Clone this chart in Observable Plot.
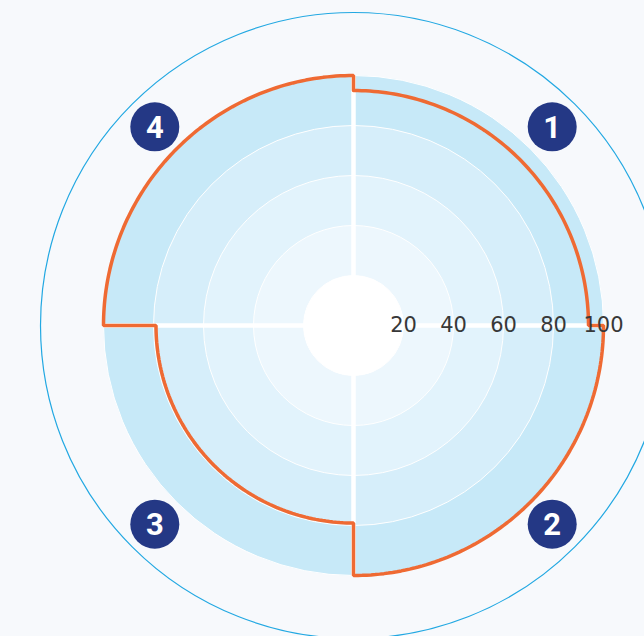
<!DOCTYPE html>
<html>
<head>
<meta charset="utf-8">
<script src="https://cdn.jsdelivr.net/npm/d3@7"></script>
<script src="https://cdn.jsdelivr.net/npm/@observablehq/plot@0.6"></script>
<style>
  html, body { margin: 0; padding: 0; background: #f7f9fc; }
  #chart svg { display: block; }
</style>
</head>
<body>
<div id="chart"></div>
<script>
// ---- data ----
const quadrants = ["1", "2", "3", "4"];
const scores = [94, 100, 79, 100];
const ringLevels = [100, 80, 60, 40, 20];
const tickLabels = [20, 40, 60, 80, 100];

// ---- styles ----
const ringFills = ["#c7e9f8", "#d6eefa", "#e2f3fc", "#edf7fd", "#ffffff"];
const outerRadius = 125.2;   // thin outer guide circle (value units)
const markerRadius = 112.4;  // where the numbered badges sit

const rad = Math.PI / 180;

// orange score outline, one arc per quadrant (clockwise from top)
const outline = [];
scores.forEach((v, i) => {
  const a0 = 90 - 90 * i;
  const N = 90;
  for (let k = 0; k <= N; k++) {
    const a = (a0 - 90 * k / N) * rad;
    outline.push({x: v * Math.cos(a), y: v * Math.sin(a)});
  }
});
outline.push(outline[0]);

const rings = ringLevels.map((r, i) => ({r, fill: ringFills[i]}));
const badges = quadrants.map((q, i) => {
  const a = (45 - 90 * i) * rad;
  return {label: q, x: markerRadius * Math.cos(a), y: markerRadius * Math.sin(a)};
});

const chart = Plot.plot({
  width: 644,
  height: 636,
  margin: 0,
  style: {background: "#f7f9fc"},
  x: {domain: [-141.2, 116.4], axis: null},
  y: {domain: [-124.4, 130], axis: null},
  r: {type: "linear", domain: [0, 100], range: [0, 250]},
  marks: [
    Plot.dot([outerRadius], {x: 0, y: 0, r: d => d, fill: "none", stroke: "#22a8e2", strokeWidth: 1.2}),
    Plot.dot(rings, {x: 0, y: 0, r: "r", fill: "fill", stroke: "#ffffff", strokeWidth: 1}),
    Plot.ruleX([0], {y1: -100, y2: 100, stroke: "#ffffff", strokeWidth: 4.5}),
    Plot.ruleY([0], {x1: -100, x2: 100, stroke: "#ffffff", strokeWidth: 4.5}),
    Plot.dot([20], {x: 0, y: 0, r: d => d, fill: "#ffffff"}),
    Plot.line(outline, {x: "x", y: "y", stroke: "#ef6a33", strokeWidth: 3.5, strokeLinejoin: "miter"}),
    Plot.text(tickLabels, {x: d => d, y: 0, text: d => String(d), fontSize: 21, fill: "#383838",
      fontFamily: "DejaVu Sans", textAnchor: "middle", lineAnchor: "middle"}),
    Plot.dot(badges, {x: "x", y: "y", r: 24.5, fill: "#243885"}),
    Plot.text(badges, {x: "x", y: "y", text: "label", fill: "#ffffff", fontSize: 31,
      fontWeight: "bold", fontFamily: "Roboto", lineAnchor: "middle", dy: 1})
  ]
});
document.getElementById("chart").appendChild(chart);
</script>
</body>
</html>
